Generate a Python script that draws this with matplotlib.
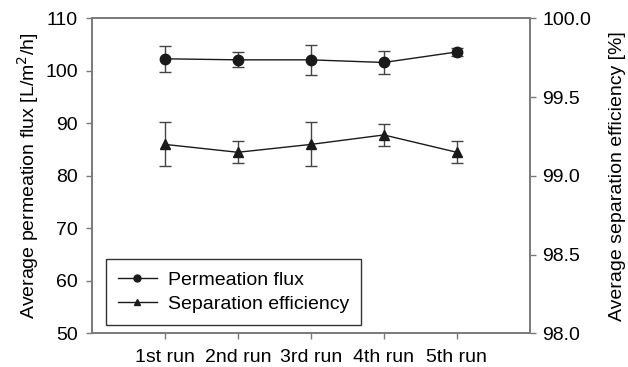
import numpy as np
import matplotlib
matplotlib.use("Agg")
import matplotlib.pyplot as plt
from matplotlib.lines import Line2D

plt.rcParams['font.family'] = ['Liberation Sans', 'DejaVu Sans']

runs = ["1st run", "2nd run", "3rd run", "4th run", "5th run"]
flux = [102.3, 102.1, 102.1, 101.6, 103.6]
flux_err = [2.5, 1.4, 2.8, 2.1, 0.7]
efficiency = [99.20, 99.15, 99.20, 99.26, 99.15]
efficiency_err = [0.14, 0.07, 0.14, 0.07, 0.07]

spine_col = '#7a7a7a'
line_col = '#1a1a1a'
fs = 14

fig = plt.figure(figsize=(6.28, 3.67), dpi=100)
ax1 = fig.add_axes([0.1465, 0.0913, 0.697, 0.8587])
ax2 = ax1.twinx()

x = np.arange(1, len(runs) + 1)

ax1.errorbar(x, flux, yerr=flux_err, color=line_col, marker='o', markersize=7.5,
             linewidth=1.0, elinewidth=1.0, ecolor='#444444', capsize=4.5, capthick=1.0)
ax2.errorbar(x, efficiency, yerr=efficiency_err, color=line_col, marker='^', markersize=7.5,
             linewidth=1.0, elinewidth=1.0, ecolor='#444444', capsize=4.5, capthick=1.0)

ax1.set_xlim(0, 6)
ax1.set_ylim(50, 110)
ax1.set_yticks(np.arange(50, 111, 10))
ax2.set_ylim(98.0, 100.0)
ax2.set_yticks(np.arange(98.0, 100.01, 0.5))
ax2.set_yticklabels(["%.1f" % v for v in np.arange(98.0, 100.01, 0.5)])
ax1.set_xticks(x)
ax1.set_xticklabels(runs)

ax1.set_ylabel("Average permeation flux [L/m$^2$/h]", fontsize=fs, labelpad=3)
ax2.set_ylabel("Average separation efficiency [%]", fontsize=fs, labelpad=13)

for ax in (ax1, ax2):
    for s in ax.spines.values():
        s.set_color(spine_col)
        s.set_linewidth(1.2)
    ax.tick_params(direction='out', length=4, width=1, color=spine_col,
                   labelsize=fs, labelcolor='black', pad=6)
ax1.tick_params(axis='x', pad=7)
ax2.tick_params(axis='y', pad=5)

handles = [Line2D([], [], color=line_col, marker='o', markersize=5, linewidth=1.0),
           Line2D([], [], color=line_col, marker='^', markersize=5, linewidth=1.0)]
leg = ax1.legend(handles, ["Permeation flux", "Separation efficiency"], loc='lower left',
                 bbox_to_anchor=(0.032, 0.028), borderaxespad=0, fontsize=fs, fancybox=False,
                 framealpha=1, edgecolor='#333333', handlelength=2.0, handletextpad=0.6,
                 borderpad=0.6, labelspacing=0.35)
leg.get_frame().set_linewidth(1.0)

fig.savefig("out.png", dpi=100)
